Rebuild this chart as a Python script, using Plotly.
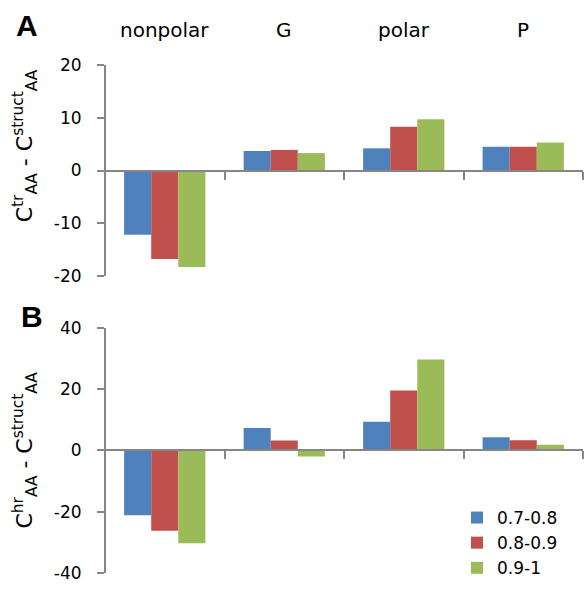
import plotly.graph_objects as go

categories = ["nonpolar", "G", "polar", "P"]
series_names = ["0.7-0.8", "0.8-0.9", "0.9-1"]
colors = ["#4F81BD", "#C0504D", "#9BBB59"]

# Panel A: C^tr_AA - C^struct_AA
panel_a = {
    "0.7-0.8": [-12.2, 3.7, 4.2, 4.5],
    "0.8-0.9": [-16.8, 3.9, 8.3, 4.5],
    "0.9-1": [-18.3, 3.3, 9.7, 5.3],
}
# Panel B: C^hr_AA - C^struct_AA
panel_b = {
    "0.7-0.8": [-21.2, 7.3, 9.3, 4.3],
    "0.8-0.9": [-26.2, 3.2, 19.5, 3.3],
    "0.9-1": [-30.3, -2.0, 29.6, 1.8],
}
ticks_a = [-20, -10, 0, 10, 20]
ticks_b = [-40, -20, 0, 20, 40]

W, H = 584, 589
L, R, T, B = 105, 1, 65, 16
PH = H - T - B
PW = W - L - R

def py(p):
    return (H - B - p) / PH

def px(p):
    return (p - L) / PW

fig = go.Figure()
for name, col in zip(series_names, colors):
    fig.add_trace(go.Bar(x=categories, y=panel_a[name], name=name, marker_color=col,
                         marker_line_width=0, xaxis="x", yaxis="y", showlegend=False))
for name, col in zip(series_names, colors):
    fig.add_trace(go.Bar(x=categories, y=panel_b[name], name=name, marker_color=col,
                         marker_line_width=0, xaxis="x2", yaxis="y2", showlegend=True))

grey = "#868686"
dom_a = [py(276), 1.0]
dom_b = [0.0, py(327.7)]
tickfont = dict(family="DejaVu Sans", size=17, color="black")
titlefont = dict(family="DejaVu Sans", size=22, color="black")

xcommon = dict(showline=True, linecolor=grey, linewidth=2, ticks="outside", ticklen=8,
               tickwidth=2, tickcolor=grey, tickson="boundaries", showticklabels=False,
               showgrid=False, zeroline=False, anchor="free", range=[-0.5, 3.5])
ycommon = dict(showline=True, linecolor=grey, linewidth=2, ticks="outside", ticklen=7,
               tickwidth=2, tickcolor=grey, showgrid=False, zeroline=False,
               tickfont=tickfont, ticklabelstandoff=12, anchor="free", position=0,
               automargin=False)

pad = "&nbsp;" * 7
fig.update_layout(
    width=W, height=H,
    margin=dict(l=L, r=R, t=T, b=B, autoexpand=False),
    paper_bgcolor="white", plot_bgcolor="white",
    barmode="group", bargap=0.32, bargroupgap=0,
    xaxis=dict(**xcommon, domain=[0, 1], position=(dom_a[0] + dom_a[1]) / 2),
    yaxis=dict(**ycommon, domain=dom_a, range=[-20, 20],
               tickvals=ticks_a, ticktext=[str(v) for v in ticks_a],
               title=dict(text=pad + "C<sup>tr</sup><sub>AA</sub> - C<sup>struct</sup><sub>AA</sub>",
                          font=titlefont, standoff=14)),
    xaxis2=dict(**xcommon, domain=[0, 1], position=(dom_b[0] + dom_b[1]) / 2),
    yaxis2=dict(**ycommon, domain=dom_b, range=[-40, 40],
                tickvals=ticks_b, ticktext=[str(v) for v in ticks_b],
                title=dict(text="C<sup>hr</sup><sub>AA</sub> - C<sup>struct</sup><sub>AA</sub>",
                           font=titlefont, standoff=14)),
    legend=dict(x=px(457), y=py(500), xanchor="left", yanchor="top",
                font=dict(family="DejaVu Sans", size=17, color="black"),
                bgcolor="rgba(0,0,0,0)", itemwidth=30, tracegroupgap=0),
    showlegend=True,
)

ann = []
for c in categories:
    ann.append(dict(x=c, xref="x", y=py(30), yref="paper", text=c, showarrow=False,
                    font=dict(family="DejaVu Sans", size=20, color="black"),
                    xanchor="center", yanchor="middle"))
ann.append(dict(x=px(27), xref="paper", y=py(26), yref="paper", text="<b>A</b>",
                xanchor="center", yanchor="middle",
                showarrow=False, font=dict(family="Liberation Sans", size=30, color="black")))
ann.append(dict(x=px(32), xref="paper", y=py(316), yref="paper", text="<b>B</b>",
                xanchor="center", yanchor="middle",
                showarrow=False, font=dict(family="Liberation Sans", size=30, color="black")))
fig.update_layout(annotations=ann)

fig.write_html("out.html")
